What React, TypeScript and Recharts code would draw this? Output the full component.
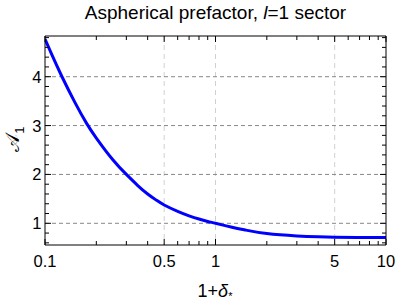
import { CartesianGrid, Line, LineChart, XAxis, YAxis } from "recharts";

document.body.style.margin = "0";

// curve: 1+delta_* vs aspherical prefactor A_1
const deltas = [0.1, 0.11, 0.125, 0.15, 0.175, 0.2, 0.25, 0.3, 0.35, 0.4, 0.45, 0.5, 0.6, 0.7, 0.8, 0.9, 1, 1.25, 1.5, 2, 3, 4, 5, 7, 10];
const prefactor = [4.77, 4.44, 4.02, 3.47, 3.05, 2.745, 2.3, 2.0, 1.773, 1.6, 1.473, 1.375, 1.244, 1.153, 1.087, 1.038, 1.0, 0.92, 0.862, 0.79, 0.742, 0.724, 0.716, 0.711, 0.708];

const xLabels = [0.1, 0.5, 1, 5, 10];
const xTicks = [0.1, 0.2, 0.3, 0.4, 0.5, 0.6, 0.7, 0.8, 0.9, 1, 2, 3, 4, 5, 6, 7, 8, 9, 10];
const yLabels = [1, 2, 3, 4];
const yTicks = [0.6, 0.8, 1, 1.2, 1.4, 1.6, 1.8, 2, 2.2, 2.4, 2.6, 2.8, 3, 3.2, 3.4, 3.6, 3.8, 4, 4.2, 4.4, 4.6, 4.8];
const xGrid = [0.5, 1, 5];
const yGrid = [1, 2, 3, 4];

const data = deltas.map((x, i) => ({ x, a: prefactor[i] }));

const FONT = "'Liberation Sans', Arial, sans-serif";
const TICK_FS = 16.5;
const Y_DOMAIN = [0.556, 4.833];

const BottomTick = (p: any) => {
  const v = p.payload.value;
  const major = xLabels.includes(v);
  return (
    <g>
      <line x1={p.x} y1={p.y} x2={p.x} y2={p.y - (major ? 6 : 4)} stroke="#000" />
      {major && (
        <text x={p.x} y={p.y + 21.5} textAnchor="middle" fontSize={TICK_FS} fontFamily={FONT} fill="#000">
          {v}
        </text>
      )}
    </g>
  );
};

const TopTick = (p: any) => {
  const major = xLabels.includes(p.payload.value);
  return <line x1={p.x} y1={p.y} x2={p.x} y2={p.y + (major ? 6 : 4)} stroke="#000" />;
};

const LeftTick = (p: any) => {
  const v = p.payload.value;
  const major = yLabels.includes(v);
  return (
    <g>
      <line x1={p.x} y1={p.y} x2={p.x + (major ? 6 : 4)} y2={p.y} stroke="#000" />
      {major && (
        <text x={p.x - 3.5} y={p.y + 6} textAnchor="end" fontSize={TICK_FS} fontFamily={FONT} fill="#000">
          {v}
        </text>
      )}
    </g>
  );
};

const RightTick = (p: any) => {
  const major = yLabels.includes(p.payload.value);
  return <line x1={p.x} y1={p.y} x2={p.x - (major ? 6 : 4)} y2={p.y} stroke="#000" />;
};

export default function App() {
  return (
    <div style={{ position: "relative", width: 398, height: 303, background: "#fff" }}>
      <LineChart width={398} height={303} data={data} margin={{ top: 35, right: 11, bottom: 57, left: 44 }}>
        <CartesianGrid horizontal={false} verticalValues={xGrid} stroke="#d0d0d0" strokeDasharray="5 4" />
        <CartesianGrid vertical={false} horizontalValues={yGrid} stroke="#888" strokeDasharray="4 3" />
        <XAxis
          dataKey="x"
          type="number"
          scale="log"
          domain={[0.1, 10]}
          allowDataOverflow
          ticks={xTicks}
          interval={0}
          tickSize={0}
          tickMargin={0}
          tickLine={false}
          height={1}
          axisLine={{ stroke: "#000" }}
          tick={BottomTick}
        />
        <XAxis
          xAxisId="top"
          orientation="top"
          dataKey="x"
          type="number"
          scale="log"
          domain={[0.1, 10]}
          allowDataOverflow
          ticks={xTicks}
          interval={0}
          tickSize={0}
          tickMargin={0}
          tickLine={false}
          height={1}
          axisLine={{ stroke: "#000" }}
          tick={TopTick}
        />
        <YAxis
          type="number"
          domain={Y_DOMAIN}
          allowDataOverflow
          ticks={yTicks}
          interval={0}
          tickSize={0}
          tickMargin={0}
          tickLine={false}
          width={1}
          axisLine={{ stroke: "#000" }}
          tick={LeftTick}
        />
        <YAxis
          yAxisId="right"
          orientation="right"
          type="number"
          domain={Y_DOMAIN}
          allowDataOverflow
          ticks={yTicks}
          interval={0}
          tickSize={0}
          tickMargin={0}
          tickLine={false}
          width={1}
          axisLine={{ stroke: "#000" }}
          tick={RightTick}
        />
        <Line type="natural" dataKey="a" stroke="#0000ff" strokeWidth={3} dot={false} isAnimationActive={false} />
      </LineChart>
      <svg width={398} height={303} style={{ position: "absolute", left: 0, top: 0, pointerEvents: "none" }}>
        <text x={215.5} y={18.5} textAnchor="middle" fontSize={19} fontFamily={FONT} fill="#000">
          Aspherical prefactor, <tspan fontStyle="italic">l</tspan>=1 sector
        </text>
        <text transform="translate(18.5,139) rotate(-90)" textAnchor="middle" fontSize={19} fontFamily="'DejaVu Serif', serif" fill="#000">
          𝒜<tspan fontSize={13} dy={5} fontFamily={FONT}>1</tspan>
        </text>
        <text x={215} y={296.5} textAnchor="middle" fontSize={18} fontFamily={FONT} fill="#000">
          1+<tspan fontStyle="italic">δ</tspan>
          <tspan fontSize={11} dy={3}>*</tspan>
        </text>
      </svg>
    </div>
  );
}
